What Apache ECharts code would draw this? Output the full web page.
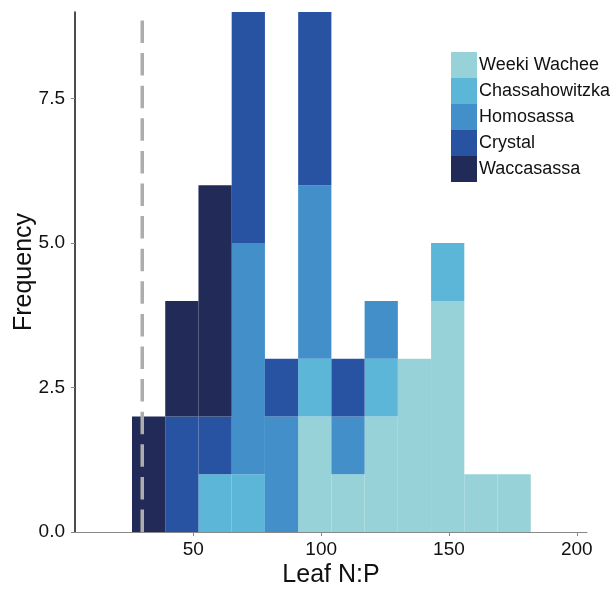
<!DOCTYPE html>
<html>
<head>
<meta charset="utf-8">
<script src="https://cdn.jsdelivr.net/npm/echarts@6/dist/echarts.min.js"></script>
<style>
html,body{margin:0;padding:0;background:#fff;}
#chart{width:616px;height:589px;}
</style>
</head>
<body>
<div id="chart"></div>
<script>
// Histogram bin edges (Leaf N:P)
const binEdges = [26, 39, 52, 65, 78, 91, 104, 117, 130, 143, 156, 169, 182];
// Counts per bin, per river (stacked bottom -> top)
const seriesNames = ['Weeki Wachee', 'Chassahowitzka', 'Homosassa', 'Crystal', 'Waccasassa'];
const weekiWachee    = [0, 0, 0, 0, 0, 2, 1, 2, 3, 4, 1, 1];
const chassahowitzka = [0, 0, 1, 1, 0, 1, 0, 1, 0, 1, 0, 0];
const homosassa      = [0, 0, 0, 4, 2, 3, 1, 1, 0, 0, 0, 0];
const crystal        = [0, 2, 1, 4, 1, 3, 1, 0, 0, 0, 0, 0];
const waccasassa     = [2, 2, 4, 0, 0, 0, 0, 0, 0, 0, 0, 0];
const xTicks = [50, 100, 150, 200];
const yTicks = [0, 2.5, 5, 7.5];
const cutoffNP = 30;

const seriesCounts = [weekiWachee, chassahowitzka, homosassa, crystal, waccasassa];
const colors = ['#97d2d8', '#5cb6d8', '#428fc9', '#2853a2', '#222a58'];
const FONT = 'Liberation Sans, Arial, Helvetica, sans-serif';

const chart = echarts.init(document.getElementById('chart'), null, {renderer: 'canvas'});

const cumulative = new Array(binEdges.length - 1).fill(0);
const series = seriesCounts.map((counts, si) => {
  const data = [];
  counts.forEach((c, i) => {
    const base = cumulative[i];
    if (c > 0) data.push([binEdges[i], binEdges[i + 1], base, base + c]);
    cumulative[i] = base + c;
  });
  return {
    name: seriesNames[si],
    type: 'custom',
    itemStyle: {color: colors[si]},
    encode: {x: [0, 1], y: [2, 3]},
    data: data,
    z: 2,
    renderItem: function (params, api) {
      const p0 = api.coord([api.value(0), api.value(3)]);
      const p1 = api.coord([api.value(1), api.value(2)]);
      return {
        type: 'rect',
        shape: {x: p0[0], y: p0[1], width: p1[0] - p0[0], height: p1[1] - p0[1]},
        style: {fill: api.visual('color')}
      };
    }
  };
});

series.push({
  name: 'cutoff',
  type: 'line',
  data: [[cutoffNP, 0], [cutoffNP, 9]],
  symbol: 'none',
  silent: true,
  z: 5,
  lineStyle: {color: '#adadad', width: 3.5, type: [22.5, 10.1]}
});

chart.setOption({
  animation: false,
  backgroundColor: '#fff',
  grid: {left: 75, right: 29, top: 12, bottom: 57, containLabel: false, outerBoundsMode: 'none'},
  legend: {
    orient: 'vertical',
    left: 446,
    top: 47,
    itemWidth: 26,
    itemHeight: 26,
    itemGap: 0,
    icon: 'rect',
    data: seriesNames.map(n => ({name: n, icon: 'rect'})),
    textStyle: {fontFamily: FONT, fontSize: 18, color: '#111', padding: [0, 0, 0, -3]}
  },
  xAxis: {
    type: 'value',
    min: 3.7,
    max: 204,
    name: 'Leaf N:P',
    nameLocation: 'middle',
    nameGap: 31,
    nameMoveOverlap: false,
    nameTextStyle: {fontFamily: FONT, fontSize: 25, color: '#111'},
    axisLine: {show: true, lineStyle: {color: '#888', width: 1}},
    axisTick: {show: true, length: 4, lineStyle: {color: '#888'}, customValues: xTicks},
    axisLabel: {customValues: xTicks, fontFamily: FONT, fontSize: 19, color: '#111', margin: 8},
    splitLine: {show: false}
  },
  yAxis: {
    type: 'value',
    min: 0,
    max: 9,
    name: 'Frequency',
    nameLocation: 'middle',
    nameGap: 38,
    nameMoveOverlap: false,
    nameTextStyle: {fontFamily: FONT, fontSize: 25, color: '#111'},
    axisLine: {show: true, lineStyle: {color: '#111', width: 1.5}},
    axisTick: {show: true, length: 4, lineStyle: {color: '#888'}, customValues: yTicks},
    axisLabel: {customValues: yTicks, fontFamily: FONT, fontSize: 19, color: '#111', margin: 10,
      formatter: v => Number(v).toFixed(1)},
    splitLine: {show: false}
  },
  series: series
});
</script>
</body>
</html>
